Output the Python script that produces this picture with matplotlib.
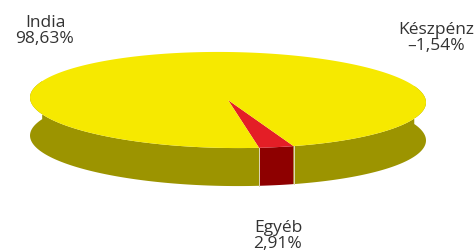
import numpy as np
import matplotlib
matplotlib.use("Agg")
import matplotlib.pyplot as plt
from matplotlib.patches import Polygon

# ---- data ----
labels = ["India", "Egyéb", "Készpénz"]
values = [98.63, 2.91, -1.54]
label_text = ["India\n98,63%", "Egyéb\n2,91%", "Készpénz\n–1,54%"]
top_colors = {"India": "#F6E900", "Egyéb": "#E41E26"}
side_colors = {"India": "#9C9400", "Egyéb": "#8E0000"}

W, H = 476, 252
fig = plt.figure(figsize=(W / 100, H / 100), dpi=100)
ax = fig.add_axes([0, 0, 1, 1])
ax.set_xlim(0, W)
ax.set_ylim(H, 0)
ax.axis("off")

cx, cy = 228.0, 100.0
a, b = 198.0, 48.0
depth = 38.0
phi = np.deg2rad(0.75)
start = -80.8  # start angle of the first drawn slice (Egyéb), counterclockwise


def rim(t_deg, dy=0.0):
    t = np.deg2rad(t_deg)
    x = a * np.cos(t)
    y = -b * np.sin(t)
    xr = x * np.cos(phi) - y * np.sin(phi)
    yr = x * np.sin(phi) + y * np.cos(phi)
    return np.column_stack([cx + xr, cy + yr + dy])


# slices: positive values only, drawn counterclockwise starting at `start`
pos = [(l, v) for l, v in zip(labels, values) if v > 0]
order = [pos[1], pos[0]]  # Egyéb first, then India
total = sum(v for _, v in pos)
spans = []
ang = start
for l, v in order:
    sweep = v / total * 360.0
    spans.append((l, ang, ang + sweep))
    ang += sweep


def side_poly(t0, t1):
    ts = np.linspace(t0, t1, 200)
    top = rim(ts)
    bot = rim(ts[::-1], depth)
    return np.vstack([top, bot])


for l, t0, t1 in spans:
    for k in (-360, 0, 360):
        s0, s1 = t0 + k, t1 + k
        lo, hi = max(s0, -200), min(s1, 20)
        if hi > lo:
            ax.add_patch(Polygon(side_poly(lo, hi), closed=True,
                                 facecolor=side_colors[l], edgecolor="none", zorder=1))

# thin light separators on front side edges
for l, t0, t1 in spans:
    for t in (t0, t1):
        tt = ((t + 180) % 360) - 180
        if -180 < tt < 0:
            p = rim(np.array([tt]))[0]
            ax.plot([p[0], p[0]], [p[1], p[1] + depth], color="#E0D8B8", lw=0.6, zorder=2)

# top faces
for l, t0, t1 in spans:
    ts = np.linspace(t0, t1, 400)
    pts = np.vstack([[cx, cy], rim(ts)])
    ax.add_patch(Polygon(pts, closed=True, facecolor=top_colors[l],
                         edgecolor="none", zorder=3))

# labels
tc = "#333333"
font = "Open Sans"
fs = 12.5
ax.text(45, 31, label_text[0], ha="center", va="center", fontsize=fs,
        color=tc, family=font, linespacing=1.05)
ax.text(436, 38, label_text[2], ha="center", va="center", fontsize=fs,
        color=tc, family=font, linespacing=1.05)
ax.text(278, 236, label_text[1], ha="center", va="center", fontsize=fs,
        color=tc, family=font, linespacing=1.05)

fig.savefig("out.png", dpi=100)
